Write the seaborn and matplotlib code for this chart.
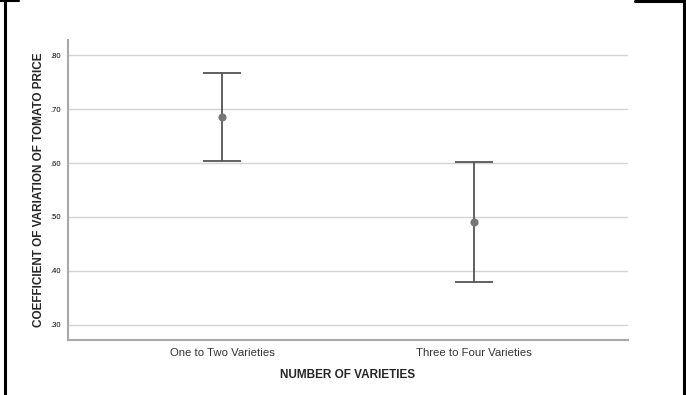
import matplotlib
matplotlib.use("Agg")
import matplotlib.pyplot as plt
from matplotlib.lines import Line2D
import seaborn as sns
import pandas as pd
import numpy as np

categories = ["One to Two Varieties", "Three to Four Varieties"]
means = [0.685, 0.491]
lower = [0.603, 0.380]
upper = [0.766, 0.602]
yticks = [0.30, 0.40, 0.50, 0.60, 0.70, 0.80]
ytick_labels = [".30", ".40", ".50", ".60", ".70", ".80"]

sns.set_theme(style="white")
plt.rcParams["font.family"] = ["Liberation Sans", "DejaVu Sans"]

df = pd.DataFrame({"group": categories, "cv": means})

fig = plt.figure(figsize=(6.86, 3.95), dpi=100)
ax = fig.add_axes([68/686, 1-340/395, (628-68)/686, (340-40)/395])

pos = np.arange(len(categories))
ax.errorbar(pos, means,
            yerr=[np.array(means)-np.array(lower), np.array(upper)-np.array(means)],
            fmt="none", ecolor="#555555", elinewidth=1.3, capsize=13.5, capthick=1.3, zorder=3)
sns.pointplot(data=df, x="group", y="cv", errorbar=None, linestyle="none",
              color="#777777", markers="o", markersize=3.8, ax=ax, zorder=4)

ax.set_xlim(-0.611, 1.611)
ax.set_ylim(0.2722, 0.8278)
ax.set_yticks(yticks)
ax.set_yticklabels(ytick_labels)
ax.yaxis.grid(True, color="#d4d4d4", linewidth=1.0)
ax.set_axisbelow(True)
ax.tick_params(axis="y", labelsize=5.5, length=0, pad=5, colors="#000000")
ax.tick_params(axis="x", labelsize=8.2, length=0, pad=6, colors="#333333")
for s in ["top", "right"]:
    ax.spines[s].set_visible(False)
for s in ["left", "bottom"]:
    ax.spines[s].set_color("#a8a8a8")
    ax.spines[s].set_linewidth(1.5)
ax.set_xlabel("NUMBER OF VARIETIES", fontsize=8.5, fontweight="bold", labelpad=8)
ax.set_ylabel("COEFFICIENT OF VARIATION OF TOMATO PRICE", fontsize=8.5, fontweight="bold", labelpad=4)

# border fragments around the image
fig.add_artist(Line2D([4.5/686, 4.5/686], [0, 1], transform=fig.transFigure, color="black", linewidth=2.2))
fig.add_artist(Line2D([684/686, 684/686], [0, 1-1/395], transform=fig.transFigure, color="black", linewidth=2.2))
fig.add_artist(Line2D([0, 19/686], [1-0.5/395, 1-0.5/395], transform=fig.transFigure, color="black", linewidth=1.5))
fig.add_artist(Line2D([635/686, 1], [1-1/395, 1-1/395], transform=fig.transFigure, color="black", linewidth=2.2))

fig.savefig("out.png", dpi=100)
